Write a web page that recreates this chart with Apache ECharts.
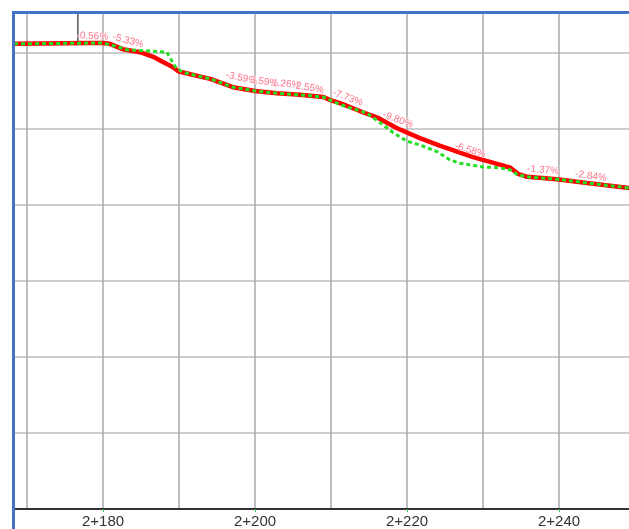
<!DOCTYPE html>
<html>
<head>
<meta charset="utf-8">
<script src="https://cdn.jsdelivr.net/npm/echarts@6/dist/echarts.min.js"></script>
<style>
	html, body { margin: 0; padding: 0; background: #fff; }
	#chart { width: 629px; height: 529px; }
</style>
</head>
<body>
<div id="chart"></div>
<script>
// 设计线 (红)
var designStations = [168.3, 178.3, 180, 180.9, 182.6, 184.9, 186.6, 187.9, 189.1, 189.9, 191.5, 194.1, 197.1, 200, 202.9, 205.9, 209, 209.9, 211.2, 214.2, 216.1, 218.7, 221.7, 224.3, 228.7, 232.2, 233.6, 234.6, 235.8, 239.7, 243.7, 249.5];
var designElevs = [6.12, 6.13, 6.13, 6.12, 6.05, 6.01, 5.95, 5.88, 5.82, 5.76, 5.72, 5.66, 5.55, 5.50, 5.47, 5.45, 5.42, 5.38, 5.34, 5.22, 5.15, 5.01, 4.88, 4.78, 4.63, 4.53, 4.49, 4.41, 4.37, 4.34, 4.29, 4.22];
// 地面线 (绿)
var groundStations = [168.3, 178.3, 180, 181.6, 183.2, 185.8, 188.4, 189.5, 190.4, 191.5, 194.1, 197.1, 200, 202.9, 205.9, 209, 211.2, 214.7, 216.5, 218.2, 220, 221.7, 224, 225.7, 227, 230, 232.2, 233.6, 234.5, 235.8, 239.7, 243.7, 249.5];
var groundElevs = [6.12, 6.13, 6.13, 6.09, 6.04, 6.03, 6.01, 5.82, 5.75, 5.72, 5.66, 5.55, 5.50, 5.47, 5.45, 5.42, 5.32, 5.21, 5.08, 4.95, 4.84, 4.79, 4.70, 4.59, 4.55, 4.50, 4.49, 4.46, 4.40, 4.37, 4.34, 4.29, 4.22];
// 坡度标注
var gradeTexts = ['-0.56%', '-5.33%', '-3.59%', '3.59%', '1.26%', '2.55%', '-7.73%', '-9.80%', '-6.58%', '-1.37%', '-2.84%'];
var gradeStations = [178.6, 183.3, 198.2, 201.2, 204.1, 207.2, 212.2, 218.8, 228.3, 237.9, 244.2];
var gradeElevs = [6.22, 6.16, 5.67, 5.62, 5.59, 5.54, 5.41, 5.12, 4.72, 4.46, 4.38];
var gradeAngles = [3, 15, 12, 8, 5, 10, 20, 20, 17, 5, 8];
// 竖线
var markStations = [176.7, 176.7];
var markElevs = [6.6, 6.14];

var xMin = 160, xMax = 250, yMin = 0, yMax = 6.526;

function pairs(xs, ys) {
	return xs.map(function(x, i) { return [x, ys[i]]; });
}

var myChart = echarts.init(document.getElementById('chart'));

var option = {
	animation: false,
	backgroundColor: '#fff',
	grid: {
		left: -49,
		right: -6,
		top: 13,
		bottom: 20,
		containLabel: false,
		outerBoundsMode: 'none'
	},
	xAxis: [{
		type: 'value',
		min: xMin,
		max: xMax,
		interval: 10,
		axisLine: {
			lineStyle: { color: '#000', width: 1.5 }
		},
		axisTick: { show: false },
		axisLabel: {
			margin: 5,
			color: '#333',
			fontSize: 15,
			fontFamily: 'Liberation Sans',
			formatter: function(v) {
				return v % 20 === 0 ? '2+' + v : '';
			}
		},
		splitLine: {
			lineStyle: { color: '#a8a8a8', width: 1.5 }
		}
	}, {
		type: 'value',
		position: 'bottom',
		min: xMin,
		max: xMax,
		interval: 20,
		axisLine: { show: false },
		axisTick: {
			length: 3,
			lineStyle: { color: '#33cc66', width: 1 }
		},
		axisLabel: { show: false },
		splitLine: { show: false }
	}],
	yAxis: {
		type: 'value',
		min: yMin,
		max: yMax,
		interval: 1,
		axisLine: { show: false },
		axisTick: { show: false },
		axisLabel: { show: false },
		splitLine: {
			lineStyle: { color: '#bdbdbd', width: 1.5 }
		}
	},
	series: [{
		type: 'line',
		data: pairs(markStations, markElevs),
		symbol: 'none',
		lineStyle: { color: '#000', width: 1 },
		z: 3
	}, {
		type: 'line',
		data: pairs(designStations, designElevs),
		symbol: 'none',
		lineStyle: { color: '#ff0000', width: 4.5 },
		z: 4
	}, {
		type: 'line',
		data: pairs(groundStations, groundElevs),
		symbol: 'none',
		lineStyle: { color: '#22e022', width: 3, type: [4, 3] },
		z: 5
	}, {
		type: 'scatter',
		symbolSize: 0,
		z: 6,
		data: gradeTexts.map(function(t, i) {
			return {
				value: [gradeStations[i], gradeElevs[i]],
				label: {
					show: true,
					position: 'inside',
					rotate: -gradeAngles[i],
					formatter: t
				}
			};
		}),
		label: {
			color: '#ff4d6a',
			fontSize: 10,
			fontFamily: 'Liberation Sans',
			textBorderColor: '#fff',
			textBorderWidth: 1
		}
	}],
	graphic: [{
		type: 'rect',
		z: 99,
		shape: { x: 0, y: 0, width: 12, height: 529 },
		style: { fill: '#fff' }
	}, {
		type: 'rect',
		z: 100,
		shape: { x: 13.5, y: 12.5, width: 1000, height: 1000 },
		style: { fill: null, stroke: '#4472c4', lineWidth: 3 }
	}]
};

myChart.setOption(option);
</script>
</body>
</html>
